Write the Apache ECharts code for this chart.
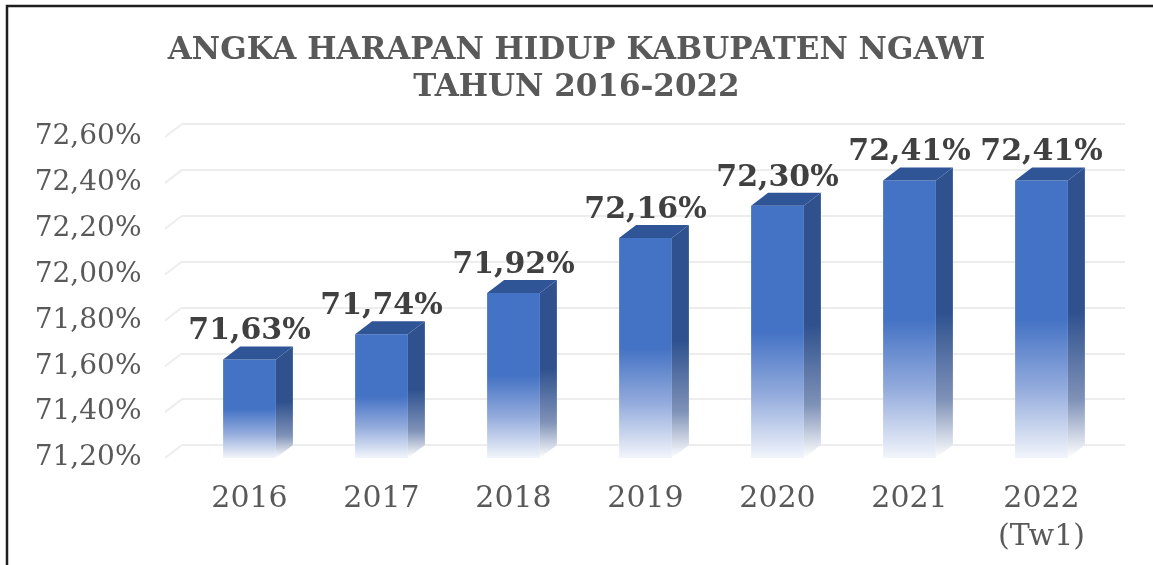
<!DOCTYPE html>
<html>
<head>
<meta charset="utf-8">
<script src="https://cdn.jsdelivr.net/npm/echarts@6/dist/echarts.min.js"></script>
<style>
	html, body {margin:0; padding:0; background:#fff;}
	#chart {width:1153px; height:565px;}
</style>
</head>
<body>
<div id="chart"></div>
<script>
	// data
	var categories = ['2016', '2017', '2018', '2019', '2020', '2021', '2022\n(Tw1)'];
	var values = [71.63, 71.74, 71.92, 72.16, 72.30, 72.41, 72.41];
	var yTicks = [71.2, 71.4, 71.6, 71.8, 72.0, 72.2, 72.4, 72.6];

	var Y_MIN = 71.2, Y_MAX = 72.6, Y_STEP = 0.2;
	var DX = 17, DY = 13;   // depth of the fake 3d
	var FONT = 'DejaVu Serif';

	function pct(v) {
		return v.toFixed(2).replace('.', ',') + '%';
	}

	function renderBar(params, api) {
		var top = api.coord([api.value(0), api.value(1)]);
		var base = api.coord([api.value(0), Y_MIN]);
		var w = api.size([1, 0])[0] * 0.4;
		var x0 = top[0] - w / 2, x1 = top[0] + w / 2;
		var y0 = top[1], y1 = base[1];

		var front = {
			type: 'rect',
			shape: {x: x0, y: y0, width: w, height: y1 - y0},
			style: {
				fill: new echarts.graphic.LinearGradient(0, 0, 0, 1, [
					{offset: 0, color: '#4472C4'},
					{offset: 0.5, color: '#4472C4'},
					{offset: 0.75, color: '#93ABDC'},
					{offset: 1, color: '#F2F5FB'}
				])
			}
		};
		var side = {
			type: 'polygon',
			shape: {points: [[x1, y0], [x1 + DX, y0 - DY], [x1 + DX, y1 - DY], [x1, y1]]},
			style: {
				fill: new echarts.graphic.LinearGradient(0, 0, 0, 1, [
					{offset: 0, color: '#2F528F'},
					{offset: 0.5, color: '#2F528F'},
					{offset: 0.8, color: '#7F92B8'},
					{offset: 1, color: '#FFFFFF'}
				])
			}
		};
		var cap = {
			type: 'polygon',
			shape: {points: [[x0, y0], [x1, y0], [x1 + DX, y0 - DY], [x0 + DX, y0 - DY]]},
			style: {fill: '#2F5597'}
		};
		var label = {
			type: 'text',
			x: top[0],
			y: y0 - DY,
			style: {
				text: pct(api.value(1)),
				align: 'center',
				verticalAlign: 'bottom',
				font: 'bold 30px "' + FONT + '"',
				fill: '#404040'
			}
		};
		return {type: 'group', children: [front, side, cap, label]};
	}

	// little diagonal ends of the gridlines at the left of the floor
	function renderStub(params, api) {
		var p = api.coord([0, api.value(1)]);
		return {
			type: 'line',
			shape: {x1: p[0], y1: p[1], x2: p[0] - DX, y2: p[1] + DY},
			style: {stroke: '#EDEDED', lineWidth: 2}
		};
	}

	var chart = echarts.init(document.getElementById('chart'));
	var option = {
		backgroundColor: '#fff',
		animation: false,
		title: {
			text: 'ANGKA HARAPAN HIDUP KABUPATEN NGAWI\nTAHUN 2016-2022',
			left: 'center',
			top: 27,
			textStyle: {
				fontFamily: FONT,
				fontWeight: 'bold',
				fontSize: 31,
				lineHeight: 37,
				color: '#595959'
			}
		},
		graphic: [{
			type: 'polyline',
			shape: {points: [[7, 565], [7, 6], [1153, 6]]},
			style: {stroke: '#1E1E1E', lineWidth: 2.5, fill: null}
		}],
		grid: [
			// front plane: bars, labels
			{left: 183.5, right: 45.5, top: 137, bottom: 107},
			// back wall: gridlines
			{left: 182, right: 28, top: 124, bottom: 120}
		],
		xAxis: [{
			type: 'category',
			gridIndex: 0,
			data: categories,
			axisLine: {show: false},
			axisTick: {show: false},
			axisLabel: {
				margin: 22,
				fontFamily: FONT,
				fontSize: 30,
				lineHeight: 38,
				color: '#595959'
			}
		}, {
			type: 'value',
			gridIndex: 1,
			min: 0,
			max: 1,
			show: false
		}],
		yAxis: [{
			type: 'value',
			gridIndex: 0,
			min: Y_MIN,
			max: Y_MAX,
			interval: Y_STEP,
			splitLine: {show: false},
			axisLine: {show: false},
			axisTick: {show: false},
			axisLabel: {
				margin: 42,
				formatter: pct,
				fontFamily: FONT,
				fontSize: 28,
				color: '#595959'
			}
		}, {
			type: 'value',
			gridIndex: 1,
			min: Y_MIN,
			max: Y_MAX,
			interval: Y_STEP,
			axisLine: {show: false},
			axisTick: {show: false},
			axisLabel: {show: false},
			splitLine: {lineStyle: {color: '#EDEDED', width: 2}}
		}],
		series: [{
			type: 'custom',
			xAxisIndex: 1,
			yAxisIndex: 1,
			renderItem: renderStub,
			data: yTicks.map(function (v) { return [0, v]; }),
			z: 1
		}, {
			type: 'custom',
			xAxisIndex: 0,
			yAxisIndex: 0,
			renderItem: renderBar,
			data: values.map(function (v, i) { return [i, v]; }),
			z: 5
		}]
	};
	chart.setOption(option);
</script>
</body>
</html>
